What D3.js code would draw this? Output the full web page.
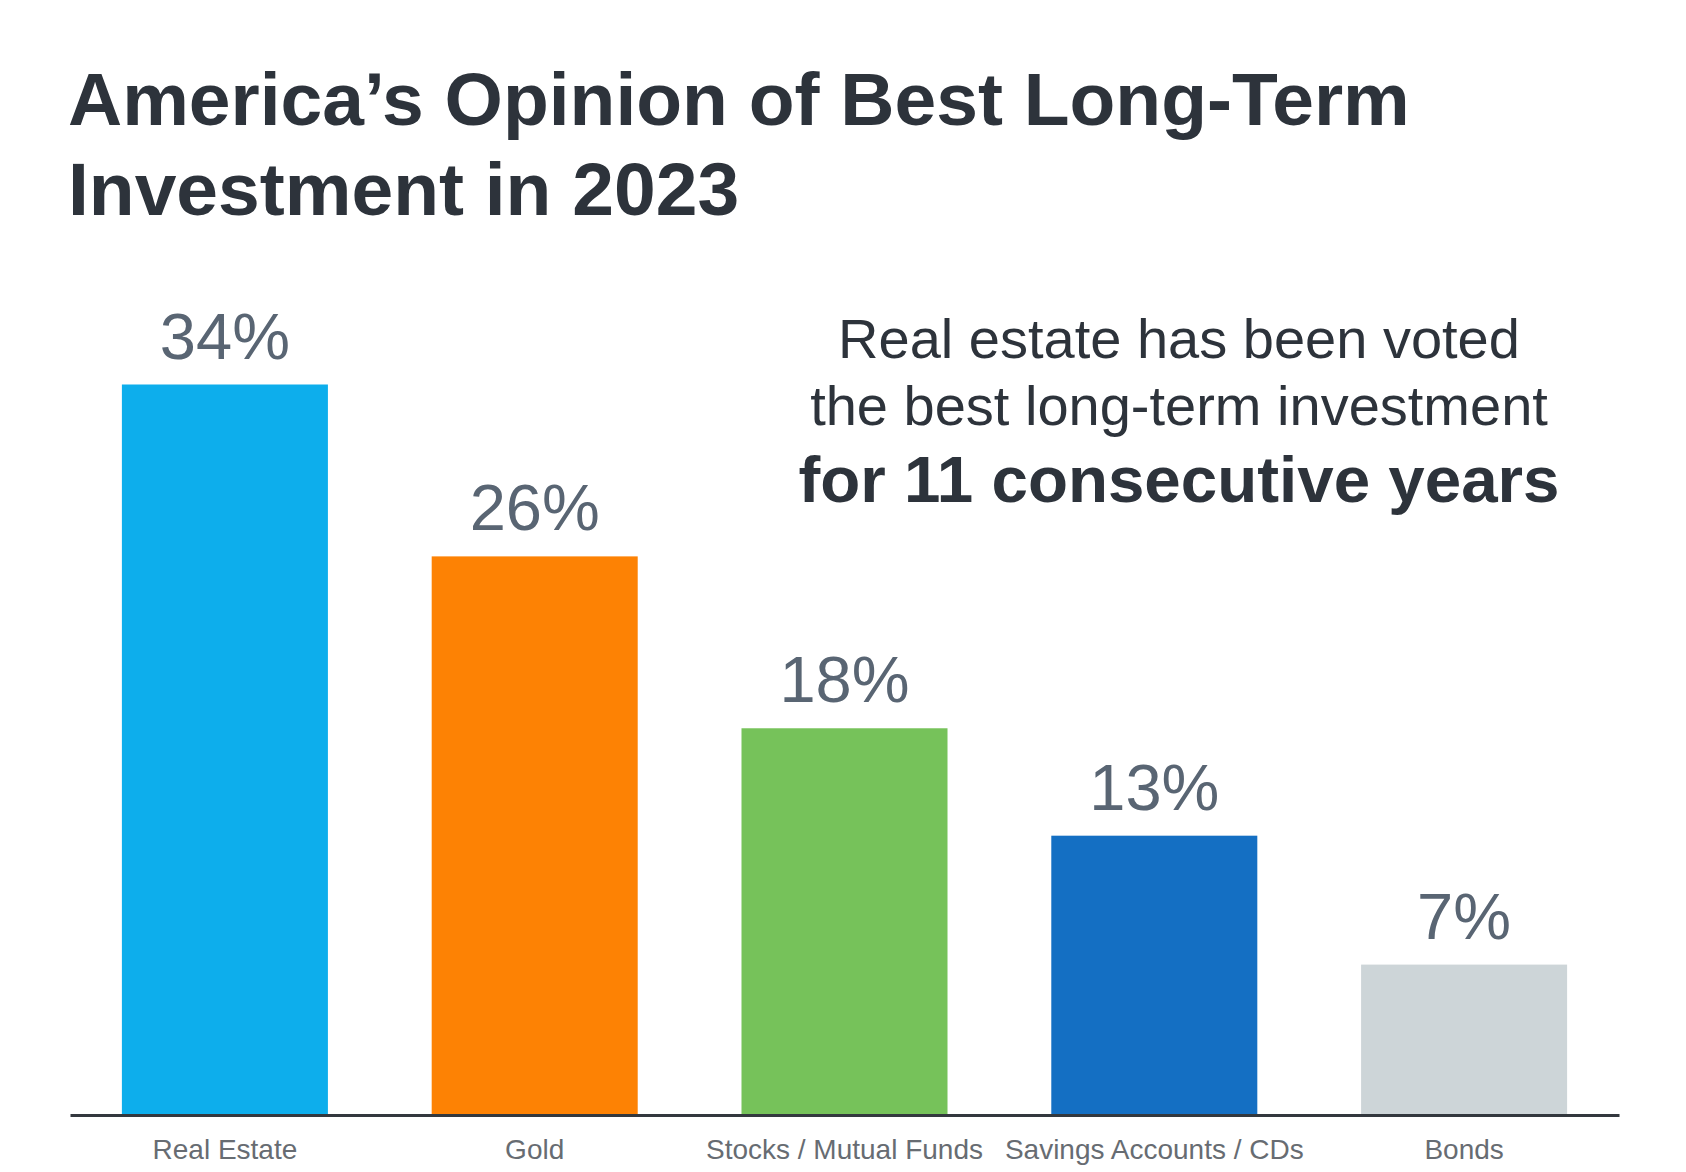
<!DOCTYPE html>
<html>
<head>
<meta charset="utf-8">
<script src="https://cdn.jsdelivr.net/npm/d3@7"></script>
<style>
  html, body { margin: 0; padding: 0; background: #fff; }
  svg { display: block; font-family: "Liberation Sans", Arial, Helvetica, sans-serif; }
</style>
</head>
<body>
<svg width="1686" height="1172"></svg>
<script>
const categories = ['Real Estate', 'Gold', 'Stocks / Mutual Funds', 'Savings Accounts / CDs', 'Bonds'];
const values = [34, 26, 18, 13, 7];
const barColors = ['#0daeec', '#fd8204', '#76c25a', '#146fc3', '#cdd5d8'];
const titleLines = ['America\u2019s Opinion of Best Long-Term', 'Investment in 2023'];
const noteLines = ['Real estate has been voted', 'the best long-term investment', 'for 11 consecutive years'];

const svg = d3.select('svg');
const baseY = 1115;

const x = d3.scaleBand()
  .domain(categories)
  .range([70, 1619])
  .paddingInner(0.335)
  .paddingOuter(0.1675);

const y = d3.scaleLinear()
  .domain([0, 34])
  .range([baseY, 384.5]);

const color = d3.scaleOrdinal().domain(categories).range(barColors);

// title
svg.append('g').selectAll('text')
  .data(titleLines)
  .enter().append('text')
    .attr('x', 68)
    .attr('y', (d, i) => 125 + i * 90)
    .attr('font-size', 75)
    .attr('font-weight', 'bold')
    .attr('fill', '#2d333b')
    .text(d => d);

// bars
svg.append('g').selectAll('rect')
  .data(values)
  .enter().append('rect')
    .attr('x', (d, i) => x(categories[i]))
    .attr('width', x.bandwidth())
    .attr('y', d => y(d))
    .attr('height', d => baseY - y(d))
    .attr('fill', (d, i) => color(categories[i]));

// value labels
svg.append('g').selectAll('text')
  .data(values)
  .enter().append('text')
    .attr('x', (d, i) => x(categories[i]) + x.bandwidth() / 2)
    .attr('y', d => y(d) - 26)
    .attr('text-anchor', 'middle')
    .attr('font-size', 65)
    .attr('fill', '#596573')
    .text(d => d + '%');

// x axis
const axis = svg.append('g')
  .attr('transform', 'translate(0,' + baseY + ')')
  .call(d3.axisBottom(x).tickSize(0).tickPadding(24));
axis.select('.domain')
  .attr('stroke', '#33383e')
  .attr('stroke-width', 3);
axis.selectAll('.tick text')
  .attr('font-family', '"Liberation Sans", Arial, sans-serif')
  .attr('font-size', 28)
  .attr('fill', '#676c72');

// annotation
svg.append('g').selectAll('text')
  .data(noteLines)
  .enter().append('text')
    .attr('x', 1179)
    .attr('y', (d, i) => [358, 425, 502][i])
    .attr('text-anchor', 'middle')
    .attr('font-size', (d, i) => i == 2 ? 65.5 : 56)
    .attr('font-weight', (d, i) => i == 2 ? 'bold' : 'normal')
    .attr('fill', '#2d333b')
    .text(d => d);
</script>
</body>
</html>
